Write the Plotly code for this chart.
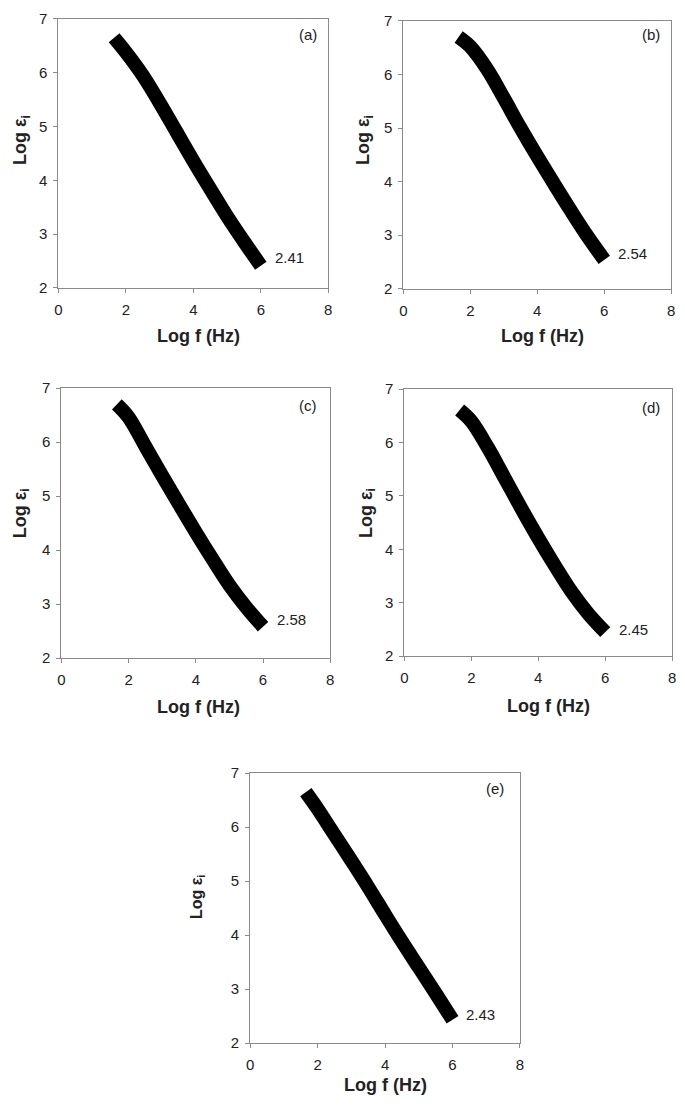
import plotly.graph_objects as go

# ---- data ----
LOG_F = [1.65, 2.0, 2.5, 3.0, 3.5, 4.0, 4.5, 5.0, 5.5, 6.0]
PANEL_IDS = ["a", "b", "c", "d", "e"]
LOG_EPS_A = [6.65, 6.38, 5.95, 5.44, 4.90, 4.36, 3.84, 3.33, 2.86, 2.41]
LOG_EPS_B = [6.70, 6.52, 6.10, 5.56, 5.00, 4.47, 3.96, 3.46, 2.98, 2.54]
LOG_EPS_C = [6.70, 6.46, 5.92, 5.38, 4.85, 4.33, 3.83, 3.35, 2.94, 2.58]
LOG_EPS_D = [6.61, 6.40, 5.90, 5.33, 4.76, 4.21, 3.69, 3.20, 2.79, 2.45]
LOG_EPS_E = [6.65, 6.34, 5.86, 5.38, 4.89, 4.38, 3.88, 3.40, 2.92, 2.43]
END_LABELS = ["2.41", "2.54", "2.58", "2.45", "2.43"]
X_TICKS = [0, 2, 4, 6, 8]
Y_TICKS = [2, 3, 4, 5, 6, 7]

SERIES = [LOG_EPS_A, LOG_EPS_B, LOG_EPS_C, LOG_EPS_D, LOG_EPS_E]

# ---- layout (screen-pixel boxes of each plot area: left, top, right, bottom) ----
W, H = 685, 1109
PAGE_OFFSET = 8  # default body margin of the written html page
BOXES = [(55, 10, 328, 283), (404, 12, 675, 284), (58, 385, 330, 659),
         (405, 386, 676, 657), (249, 776, 522, 1050)]
YTITLE_POS = [(17, 133), (364, 133), (17, 512), (367, 512), (195, 902)]
YTITLE_SIZE = [18, 18, 18, 18, 16]
XTITLE_POS = [(197, 332), (545, 332), (197, 709), (551, 708), (386, 1093)]
LETTER_POS = [(307, 26), (655, 26), (308, 403), (655, 405), (497, 792)]
END_LABEL_DY = [0.16, 0.12, 0.13, 0.05, 0.09]

FONT = "Liberation Sans, Arial, sans-serif"
AXIS_COLOR = "#8a8a8a"
TEXT_COLOR = "#222222"

fig = go.Figure()
annotations = []


def px_x(v):
    return (v - PAGE_OFFSET) / W


def px_y(v):
    return 1 - (v - PAGE_OFFSET) / H


for i, (pid, ys) in enumerate(zip(PANEL_IDS, SERIES)):
    n = "" if i == 0 else str(i + 1)
    xa, ya = "x" + n, "y" + n
    l, t, r, b = BOXES[i]
    fig.add_trace(go.Scatter(
        x=LOG_F, y=ys, mode="lines", xaxis=xa, yaxis=ya,
        line=dict(color="black", width=14, shape="spline", smoothing=1.0),
        showlegend=False, hoverinfo="skip"))
    axis_common = dict(showline=True, mirror=True, linecolor=AXIS_COLOR, linewidth=1,
                       ticks="outside", ticklen=4, tickcolor=AXIS_COLOR, tickwidth=1,
                       showgrid=False, zeroline=False,
                       tickfont=dict(family=FONT, size=15, color=TEXT_COLOR))
    fig.update_layout(**{
        "xaxis" + n: dict(domain=[px_x(l), px_x(r)], range=[0, 8], tickvals=X_TICKS,
                          anchor=ya, ticklabelstandoff=4, **axis_common),
        "yaxis" + n: dict(domain=[px_y(b), px_y(t)], range=[2, 7], tickvals=Y_TICKS,
                          anchor=xa, ticklabelstandoff=3, **axis_common),
    })
    # end-point value label
    annotations.append(dict(x=LOG_F[-1] + 0.35, y=ys[-1] + END_LABEL_DY[i], xref=xa, yref=ya,
                            text=END_LABELS[i], showarrow=False, xanchor="left", yanchor="middle",
                            font=dict(family=FONT, size=15, color=TEXT_COLOR)))
    # panel letter
    lx, ly = LETTER_POS[i]
    annotations.append(dict(x=px_x(lx), y=px_y(ly), xref="paper", yref="paper",
                            text="(" + pid + ")", showarrow=False, xanchor="center", yanchor="middle",
                            font=dict(family=FONT, size=15, color=TEXT_COLOR)))
    # x title
    tx, ty = XTITLE_POS[i]
    annotations.append(dict(x=px_x(tx), y=px_y(ty), xref="paper", yref="paper",
                            text="<b>Log f (Hz)</b>", showarrow=False, xanchor="center", yanchor="middle",
                            font=dict(family=FONT, size=18, color=TEXT_COLOR)))
    # y title
    yx, yy = YTITLE_POS[i]
    annotations.append(dict(x=px_x(yx), y=px_y(yy), xref="paper", yref="paper",
                            text="<b>Log ε<sub>i</sub></b>", showarrow=False, textangle=-90,
                            xanchor="center", yanchor="middle",
                            font=dict(family=FONT, size=YTITLE_SIZE[i], color=TEXT_COLOR)))

fig.update_layout(width=W, height=H, margin=dict(l=0, r=0, t=0, b=0),
                  paper_bgcolor="white", plot_bgcolor="white",
                  annotations=annotations, showlegend=False)

fig.write_html("out.html")
